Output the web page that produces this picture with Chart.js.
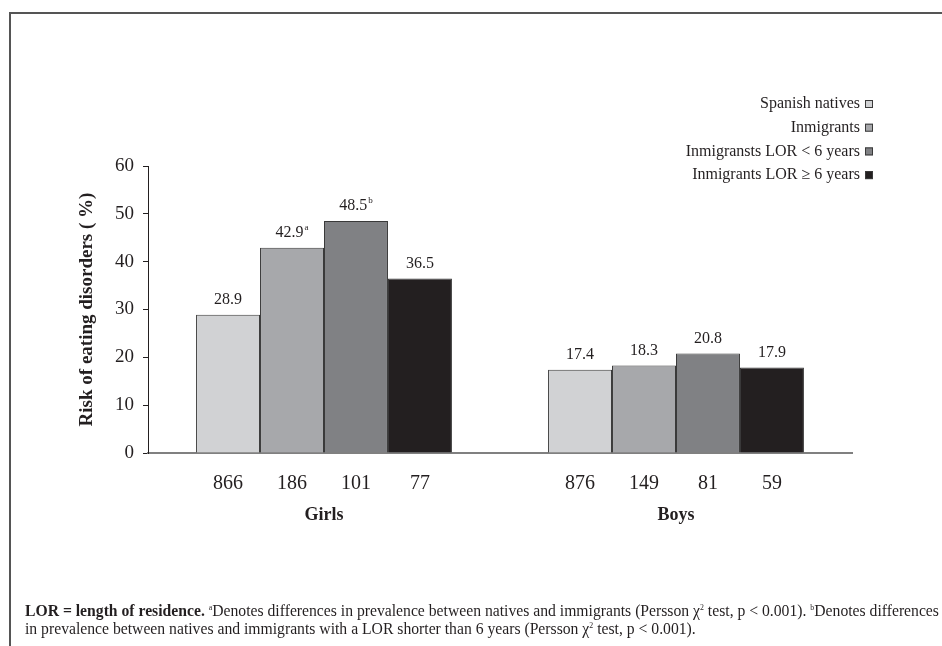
<!DOCTYPE html>
<html>
<head>
<meta charset="utf-8">
<script src="https://cdn.jsdelivr.net/npm/chart.js@4"></script>
<style>
  html, body { margin: 0; padding: 0; background: #fff; overflow: hidden; }
  body { width: 942px; height: 646px; position: relative; }
  #frame {
    position: absolute; left: 9px; top: 12px; width: 1000px; height: 700px;
    border-top: 2px solid #555; border-left: 2px solid #555;
  }
  #chart { position: absolute; left: 0; top: 0; }
  #note {
    position: absolute; left: 25px; top: 602px; width: 940px;
    font-family: 'Liberation Serif', serif; font-size: 16px; line-height: 18px;
    color: #231f20; white-space: nowrap;
    transform: scaleX(0.98); transform-origin: 0 0;
  }
  #note sup { font-size: 8px; vertical-align: 6px; line-height: 0; }
</style>
</head>
<body>
<div id="frame"></div>
<canvas id="chart" width="942" height="646"></canvas>
<div id="note">
  <b>LOR = length of residence.</b> <sup>a</sup>Denotes differences in prevalence between natives and immigrants (Persson χ<sup>2</sup> test, p &lt; 0.001). <sup>b</sup>Denotes differences<br>
  in prevalence between natives and immigrants with a LOR shorter than 6 years (Persson χ<sup>2</sup> test, p &lt; 0.001).
</div>
<script>
// ---- data ----
const groups = ['Girls', 'Boys'];
const seriesNames = [
  'Spanish natives',
  'Inmigrants',
  'Inmigransts LOR < 6 years',
  'Inmigrants LOR \u2265 6 years'
];
const spanishNatives = [28.9, 17.4];
const immigrants = [42.9, 18.3];
const immigrantsShort = [48.5, 20.8];
const immigrantsLong = [36.5, 17.9];

const nSpanish = [866, 876];
const nImmigrants = [186, 149];
const nShort = [101, 81];
const nLong = [77, 59];

const notesSpanish = ['', ''];
const notesImmigrants = ['a', ''];
const notesShort = ['b', ''];
const notesLong = ['', ''];

const yTicks = [0, 10, 20, 30, 40, 50, 60];

const colors = ['#d1d2d4', '#a7a8ab', '#808184', '#231f20'];
const serif = "'Liberation Serif', serif";

const values = [spanishNatives, immigrants, immigrantsShort, immigrantsLong];
const sizes = [nSpanish, nImmigrants, nShort, nLong];
const notes = [notesSpanish, notesImmigrants, notesShort, notesLong];

// value labels above bars + sample sizes below the axis
const barLabels = {
  id: 'barLabels',
  afterDatasetsDraw(chart) {
    const ctx = chart.ctx;
    const base = chart.scales.y.getPixelForValue(0);
    ctx.save();
    ctx.fillStyle = '#231f20';
    ctx.textBaseline = 'middle';
    chart.data.datasets.forEach((ds, i) => {
      const meta = chart.getDatasetMeta(i);
      meta.data.forEach((bar, j) => {
        const txt = ds.data[j].toFixed(1);
        const sup = notes[i][j];
        ctx.font = '16px ' + serif;
        const w1 = ctx.measureText(txt).width;
        ctx.font = '9px ' + serif;
        const w2 = sup ? ctx.measureText(sup).width + 1 : 0;
        const x0 = bar.x - (w1 + w2) / 2;
        const y = bar.y - 15;
        ctx.textAlign = 'left';
        ctx.font = '16px ' + serif;
        ctx.fillText(txt, x0, y);
        if (sup) {
          ctx.font = '9px ' + serif;
          ctx.fillText(sup, x0 + w1 + 1, y - 5);
        }
        // n below the axis
        ctx.textAlign = 'center';
        ctx.font = '20px ' + serif;
        ctx.fillText(String(sizes[i][j]), bar.x, base + 31);
      });
    });
    ctx.restore();
  }
};

// legend: text right-aligned, small box to the right
const rightLegend = {
  id: 'rightLegend',
  afterDraw(chart) {
    const ctx = chart.ctx;
    ctx.save();
    ctx.font = '16px ' + serif;
    ctx.textAlign = 'right';
    ctx.textBaseline = 'middle';
    seriesNames.forEach((name, i) => {
      const y = 104 + i * 23.7;
      ctx.fillStyle = '#231f20';
      ctx.fillText(name, 860, y);
      ctx.fillStyle = colors[i];
      ctx.fillRect(865, y - 4, 8, 8);
      ctx.strokeStyle = '#3a3a3a';
      ctx.lineWidth = 1;
      ctx.strokeRect(865.5, y - 3.5, 7, 7);
    });
    ctx.restore();
  }
};

new Chart(document.getElementById('chart').getContext('2d'), {
  type: 'bar',
  data: {
    labels: groups,
    datasets: values.map((v, i) => ({
      label: seriesNames[i],
      data: v,
      backgroundColor: colors[i],
      borderColor: '#3a3a3a',
      borderWidth: 1,
      barPercentage: 1,
      categoryPercentage: 0.727
    }))
  },
  options: {
    responsive: false,
    animation: false,
    layout: { padding: { left: 72, top: 166, right: 90, bottom: 113 } },
    plugins: {
      legend: { display: false },
      tooltip: { enabled: false }
    },
    scales: {
      x: {
        grid: { display: false, drawTicks: false },
        border: { display: true, color: '#808080', width: 2 },
        ticks: {
          padding: 52,
          color: '#231f20',
          font: { family: serif, size: 18, weight: 'bold' }
        },
        afterFit(scale) { scale.height = 80; }
      },
      y: {
        min: 0,
        max: 60,
        afterBuildTicks(scale) { scale.ticks = yTicks.map(v => ({ value: v })); },
        grid: { drawOnChartArea: false, drawTicks: true, tickLength: 5, color: '#231f20' },
        border: { display: true, color: '#231f20', width: 1 },
        ticks: {
          padding: 9,
          color: '#231f20',
          font: { family: serif, size: 19 }
        },
        title: {
          display: true,
          text: 'Risk of eating disorders ( %)',
          color: '#231f20',
          padding: { top: 4, bottom: 0 },
          font: { family: serif, size: 19, weight: 'bold' }
        },
        afterFit(scale) { scale.width = 76; }
      }
    }
  },
  plugins: [barLabels, rightLegend]
});
</script>
</body>
</html>
